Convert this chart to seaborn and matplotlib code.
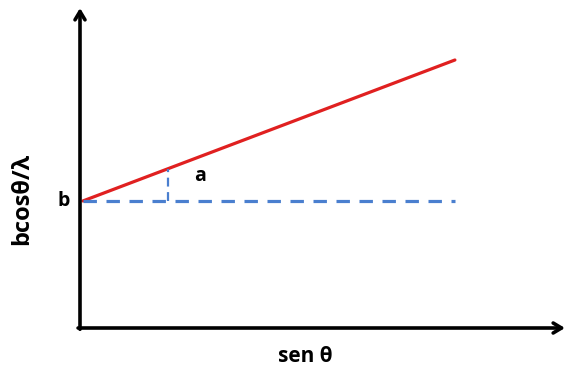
import matplotlib
matplotlib.use("Agg")
import matplotlib.pyplot as plt
import seaborn as sns
import pandas as pd

# data (axes units 0..1)
sen_theta = [0.006, 0.773]
bcos_lambda = [0.397, 0.8375]
baseline_x = [0.006, 0.773]
baseline_y = [0.397, 0.397]
slope_x = [0.181, 0.181]
slope_y = [0.397, 0.4975]

sns.set_theme(style="white")
plt.rcParams['font.family'] = ['Open Sans', 'DejaVu Sans']
plt.rcParams['text.color'] = 'black'

fig = plt.figure(figsize=(5.68, 3.71), dpi=100)
ax = fig.add_axes([80/568, 43/371, 485/568, 320/371])
ax.set_xlim(0, 1)
ax.set_ylim(0, 1)

df = pd.DataFrame({"x": sen_theta, "y": bcos_lambda})
sns.lineplot(data=df, x="x", y="y", ax=ax, color="#e02020", linewidth=2.3)
ax.plot(baseline_x, baseline_y, color="#4a7fcf", linewidth=2.3, dashes=(4.2, 3))
ax.plot(slope_x, slope_y, color="#4a7fcf", linewidth=1.6, dashes=(4, 2.5))

for s in ax.spines.values():
    s.set_visible(False)
ax.set_xticks([])
ax.set_yticks([])
ax.set_xlabel("")
ax.set_ylabel("")

arrow = dict(arrowstyle="->,head_length=0.5,head_width=0.3", color="black", lw=2.6,
             shrinkA=0, shrinkB=0)
ax.annotate("", xy=(0, 1.0), xytext=(0, -0.004), xycoords="axes fraction", arrowprops=arrow)
ax.annotate("", xy=(1.0, 0), xytext=(-0.004, 0), xycoords="axes fraction", arrowprops=arrow)

ax.text(-0.033, 0.397, "b", ha="center", va="center", fontsize=14, fontweight="bold", color="black")
ax.text(0.247, 0.475, "a", ha="center", va="center", fontsize=14, fontweight="bold", color="black")
fig.text(305/568, 1 - 357/371, "sen θ", ha="center", va="center", fontsize=15, fontweight="bold", color="black")
fig.text(22/568, 1 - 199/371, "bcosθ/λ", ha="center", va="center", rotation=90,
         fontsize=17, fontweight="bold", color="black")

fig.savefig("out.png", dpi=100)
